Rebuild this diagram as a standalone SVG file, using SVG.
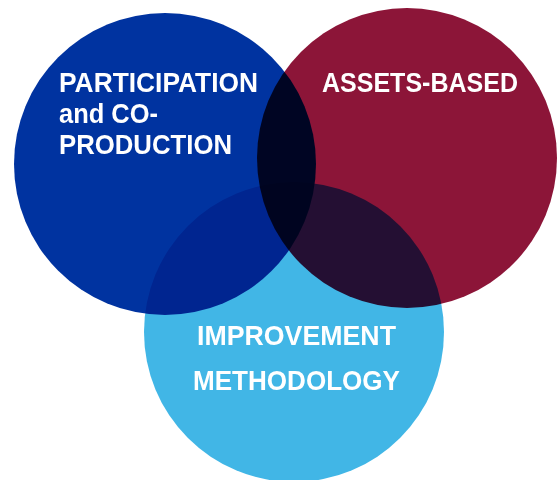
<svg xmlns="http://www.w3.org/2000/svg" width="559" height="480" viewBox="0 0 559 480">
  <style>
    .set { mix-blend-mode: multiply; }
    .lbl { font-family: "Liberation Sans", Arial, sans-serif; font-weight: bold; font-size: 28px; fill: #ffffff; }
  </style>
  <rect width="559" height="480" fill="#ffffff"/>
  <g style="isolation:isolate">
    <g id="participation">
      <circle class="set" cx="165" cy="164" r="151" fill="#0033a0"/>
    </g>
    <g id="assets">
      <circle class="set" cx="407" cy="158" r="150" fill="#8c1538"/>
    </g>
    <g id="improvement">
      <circle class="set" cx="294" cy="332" r="150" fill="#41b6e6"/>
    </g>
  </g>
  <g id="connectors"></g>
  <g id="labels">
    <text class="lbl" x="59" y="92" textLength="199" lengthAdjust="spacingAndGlyphs">PARTICIPATION</text>
    <text class="lbl" x="59" y="123" textLength="99" lengthAdjust="spacingAndGlyphs">and CO-</text>
    <text class="lbl" x="59" y="154" textLength="173" lengthAdjust="spacingAndGlyphs">PRODUCTION</text>
    <text class="lbl" x="322" y="92" textLength="196" lengthAdjust="spacingAndGlyphs">ASSETS-BASED</text>
    <text class="lbl" x="197" y="345" textLength="199" lengthAdjust="spacingAndGlyphs">IMPROVEMENT</text>
    <text class="lbl" x="193" y="390" textLength="207" lengthAdjust="spacingAndGlyphs">METHODOLOGY</text>
  </g>
</svg>
